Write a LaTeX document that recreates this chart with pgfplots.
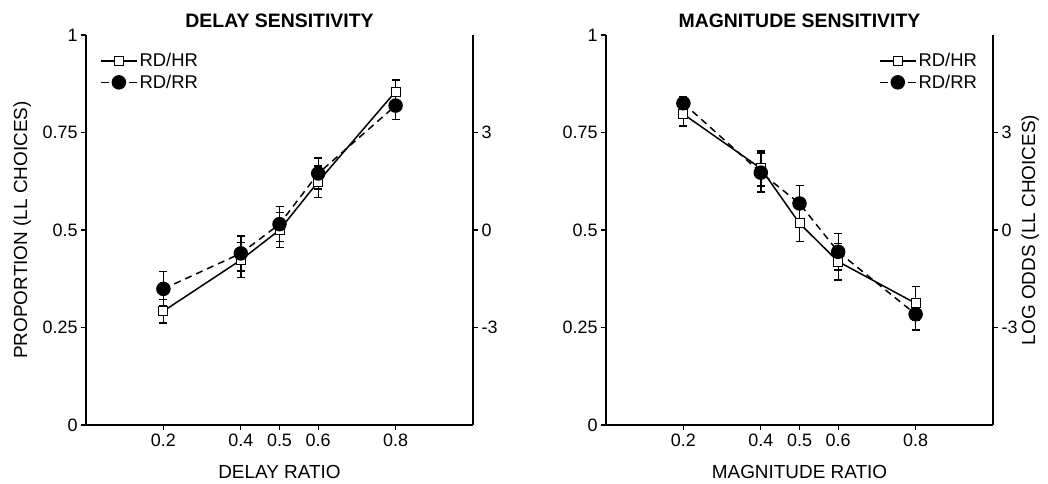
\documentclass[border=0pt]{standalone}
\usepackage{fontspec}
\setmainfont{Liberation Sans}
\newfontfamily\titlefont{Liberation Sans Bold}
\usepackage{pgfplots}
\pgfplotsset{compat=1.18}
\newcommand\tickfs{\fontsize{18}{21}\selectfont}
\newcommand\labfs{\fontsize{19}{22}\selectfont}
\newcommand\legfs{\fontsize{18.5}{21}\selectfont}
\newcommand\tfs{\titlefont\fontsize{19.5}{22}\selectfont}
\pgfplotsset{
  base/.style={
    scale only axis, width=387bp, height=390bp,
    xmin=0, xmax=1, ymin=0, ymax=1,
    tick align=outside, major tick length=5bp,
    axis line style={line width=1.4bp, black},
    tick style={line width=1.3bp, black},
    tick label style={font=\tickfs},
    label style={font=\labfs},
    /pgf/number format/assume math mode=true,
  },
  main/.style={base,
    axis x line*=bottom, axis y line*=left,
    xtick={0.2,0.4,0.5,0.6,0.8}, xticklabels={0.2,0.4,0.5,0.6,0.8},
    ytick={0,0.25,0.5,0.75,1}, yticklabels={0,0.25,0.5,0.75,1},
    xlabel style={at={(axis description cs:0.5,-0.1205)}, anchor=center},
    title style={at={(axis description cs:0.5,1.02)}, anchor=center, font=\tfs},
    legend style={draw=none, fill=none, font=\legfs, row sep=2.5bp, inner sep=0pt},
    legend cell align=left,
    legend image code/.code={\draw[mark repeat=2,mark phase=2] plot coordinates {(0bp,0bp)(18bp,0bp)(36bp,0bp)};},
  },
  second/.style={base,
    axis x line=none, axis y line*=right,
    ytick={0.25,0.5,0.75}, yticklabels={-3,0,3},
  },
  hr/.style={black, solid, line width=1.5bp, mark=square*, mark size=4.5bp,
    mark options={fill=white, solid, line width=1bp},
    error bars/.cd, y dir=both, y explicit,
    error bar style={line width=1.4bp, solid},
    error mark options={line width=1.4bp, mark size=4bp, solid, rotate=90}},
  rr/.style={black, dash pattern=on 7bp off 5bp, line width=1.5bp, mark=*, mark size=6.5bp,
    mark options={fill=black, solid},
    legend image code/.code={\draw[mark repeat=2,mark phase=2,dash pattern=on 8bp off 20bp on 8bp] plot coordinates {(0bp,0bp)(18bp,0bp)(36bp,0bp)};},
    error bars/.cd, y dir=both, y explicit,
    error bar style={line width=1.4bp, solid},
    error mark options={line width=1.4bp, mark size=4bp, solid, rotate=90}},
}
\begin{document}
\begin{tikzpicture}
\useasboundingbox (0,0) rectangle (1048bp,484bp);
% ---------- DELAY ----------
\begin{axis}[main, at={(86bp,59bp)}, anchor=south west,
  title={DELAY SENSITIVITY}, xlabel={DELAY RATIO},
  ylabel={PROPORTION (LL CHOICES)},
  ylabel style={at={(axis description cs:-0.165,0.5)}, anchor=center, rotate=0},
  legend style={at={(axis description cs:0.036,0.958)}, anchor=north west}]
\addplot[hr] coordinates {
 (0.2,0.292) +- (0,0.030)
 (0.4,0.423) +- (0,0.045)
 (0.5,0.500) +- (0,0.045)
 (0.6,0.624) +- (0,0.040)
 (0.8,0.855) +- (0,0.030)};
\addlegendentry{RD/HR}
\addplot[rr] coordinates {
 (0.2,0.349) +- (0,0.044)
 (0.4,0.440) +- (0,0.045)
 (0.5,0.515) +- (0,0.045)
 (0.6,0.645) +- (0,0.040)
 (0.8,0.819) +- (0,0.035)};
\addlegendentry{RD/RR}
\end{axis}
\begin{axis}[second, at={(86bp,59bp)}, anchor=south west]
\end{axis}
% ---------- MAGNITUDE ----------
\begin{axis}[main, at={(606bp,59bp)}, anchor=south west,
  title={MAGNITUDE SENSITIVITY}, xlabel={MAGNITUDE RATIO},
  legend style={at={(axis description cs:0.964,0.958)}, anchor=north east}]
\addplot[hr] coordinates {
 (0.2,0.797) +- (0,0.030)
 (0.4,0.658) +- (0,0.045)
 (0.5,0.517) +- (0,0.046)
 (0.6,0.419) +- (0,0.047)
 (0.8,0.312) +- (0,0.043)};
\addlegendentry{RD/HR}
\addplot[rr] coordinates {
 (0.2,0.825) +- (0,0.018)
 (0.4,0.647) +- (0,0.050)
 (0.5,0.568) +- (0,0.046)
 (0.6,0.444) +- (0,0.047)
 (0.8,0.284) +- (0,0.040)};
\addlegendentry{RD/RR}
\end{axis}
\begin{axis}[second, at={(606bp,59bp)}, anchor=south west,
  ylabel={LOG ODDS (LL CHOICES)},
  ylabel style={at={(axis description cs:1.096,0.5)}, anchor=center, rotate=0}]
\end{axis}
\end{tikzpicture}
\end{document}
